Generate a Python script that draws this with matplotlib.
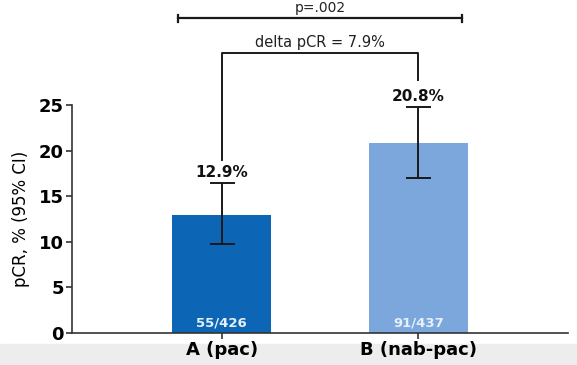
import matplotlib.pyplot as plt
from matplotlib.patches import Rectangle

plt.rcParams['font.family'] = ['DejaVu Sans']

# data
groups = ['A (pac)', 'B (nab-pac)']
pcr = [12.9, 20.8]
ci_low = [9.8, 17.0]
ci_high = [16.4, 24.8]
counts = ['55/426', '91/437']
bar_colors = ['#0d66b5', '#7ba7dc']
delta_text = 'delta pCR = 7.9%'
p_text = 'p=.002'

fig = plt.figure(figsize=(5.77, 3.65), dpi=100)
# greyish band at the bottom of the slide
fig.patches.append(Rectangle((0, 0), 1, 0.058, transform=fig.transFigure,
                             color='#ededed', zorder=-1))
ax = fig.add_axes([0.1248, 0.0877, 0.8596, 0.6247])

x = [0, 1]
err = [[p - lo for p, lo in zip(pcr, ci_low)], [hi - p for p, hi in zip(pcr, ci_high)]]
ax.bar(x, pcr, width=0.5, color=bar_colors, zorder=2)
ax.errorbar(x, pcr, yerr=err, fmt='none', ecolor='#1a1a1a', elinewidth=1.4,
            capsize=9, capthick=1.4, zorder=3)

for xi, c in zip(x, counts):
    ax.text(xi, 1.05, c, ha='center', va='center', color='#e6f0fa',
            fontsize=9.5, fontweight='bold')

# value labels above the error bars
ax.text(0, 17.65, f'{pcr[0]}%', ha='center', va='center', fontsize=11,
        fontweight='bold', color='#111111', clip_on=False)
ax.text(1, 25.9, f'{pcr[1]}%', ha='center', va='center', fontsize=11,
        fontweight='bold', color='#111111', clip_on=False)

# delta bracket
ax.plot([0, 0, 1, 1], [19.0, 30.7, 30.7, 27.7], color='#1a1a1a', lw=1.4,
        clip_on=False)
ax.text(0.5, 31.8, delta_text, ha='center', va='center', fontsize=10.5,
        color='#222222')

# p-value line with end caps
ax.plot([-0.22, 1.22], [34.5, 34.5], color='#1a1a1a', lw=1.6, clip_on=False)
for xe in [-0.22, 1.22]:
    ax.plot([xe, xe], [34.1, 34.9], color='#1a1a1a', lw=1.6, clip_on=False)
ax.text(0.5, 35.6, p_text, ha='center', va='center', fontsize=10,
        color='#222222')

ax.set_xlim(-0.76, 1.76)
ax.set_ylim(0, 25)
ax.set_yticks([0, 5, 10, 15, 20, 25])
ax.set_xticks(x)
ax.set_xticklabels(groups, fontsize=13, fontweight='bold')
for lab in ax.get_yticklabels():
    lab.set_fontsize(13)
    lab.set_fontweight('bold')
ax.tick_params(axis='both', direction='out', length=4, width=1.2, color='#333333')
ax.tick_params(axis='y', pad=2)
ax.tick_params(axis='x', pad=2)
ax.set_ylabel('pCR, % (95% CI)', fontsize=12, labelpad=6)
ax.spines['top'].set_visible(False)
ax.spines['right'].set_visible(False)
for s in ['left', 'bottom']:
    ax.spines[s].set_linewidth(1.2)
    ax.spines[s].set_color('#333333')

fig.savefig('out.png', dpi=100)
